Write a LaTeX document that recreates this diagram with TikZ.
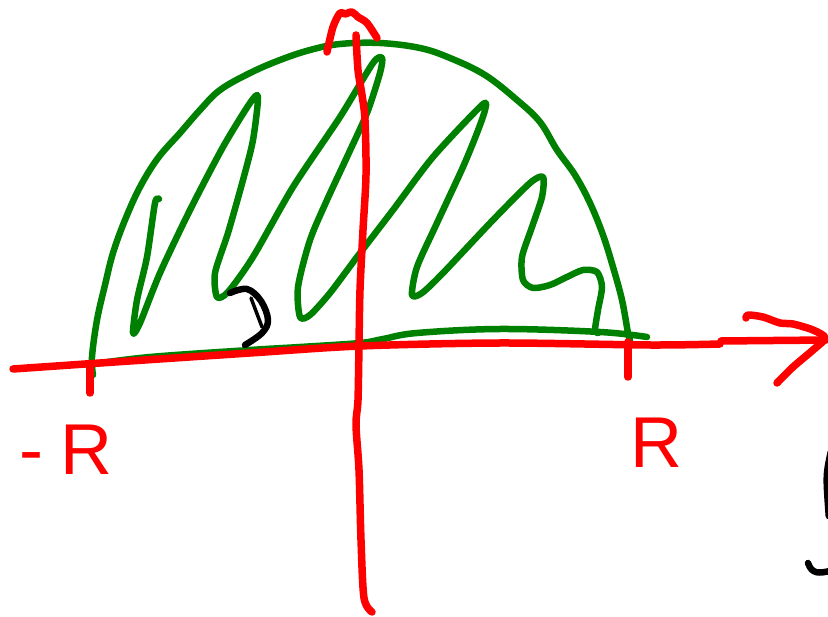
\documentclass[tikz,border=0pt]{standalone}
\usepackage{fontspec}
\setsansfont{Liberation Sans}
\definecolor{inkgreen}{RGB}{0,128,0}
\begin{document}
\begin{tikzpicture}[x=1pt,y=-1pt,line cap=round,line join=round,
  redink/.style={red,line width=7.5pt},
  greenink/.style={inkgreen,line width=6.5pt},
  blackink/.style={black,line width=6.5pt},
  rlabel/.style={red,inner sep=0pt,font=\sffamily\fontsize{72}{72}\selectfont}]
  \useasboundingbox (0,0) rectangle (828,617);
  \draw[greenink] plot[smooth,tension=0.6] coordinates {(93,375) (92,357) (97,320) (105,285) (113,253)
    (125,220) (140,187) (158,158) (180,133) (200,110) (220,90) (250,73) (280,60) (310,50) (340,44)
    (380,43) (420,48) (450,58) (485,75) (517,100) (540,122) (557,150) (575,175) (590,203) (603,235)
    (613,267) (622,300) (628,333) (630,340)};
  \draw[greenink] plot[smooth,tension=0.6] coordinates {(94,364) (150,357) (250,350) (300,347)
    (360,343) (383,339) (417,333) (500,329) (600,332) (647,337)};
  \draw[greenink] plot[smooth,tension=0.45] coordinates {(159,199) (155,203) (147,257) (137,300)
    (133,333) (140,323) (160,273) (190,210) (223,147) (250,103) (258,97) (253,140) (243,180)
    (228,233) (215,273) (217,297) (228,292) (253,257) (293,187) (340,117) (373,63) (382,58)
    (380,73) (367,113) (347,157) (327,200) (310,240) (298,287) (300,317) (310,315) (330,293)
    (357,257) (393,210) (433,157) (482,105) (485,110) (477,133) (463,167) (437,223) (417,267)
    (412,295) (422,293) (443,273) (493,220) (530,183) (543,177) (542,197) (532,227) (522,257)
    (523,280) (533,288) (550,285) (567,277) (583,270) (597,272) (602,287) (598,310) (595,330) (598,333)};
  \draw[redink] plot[smooth,tension=0.5] coordinates {(13,369) (100,363) (250,353) (360,346)
    (500,343) (650,345) (720,344)};
  \draw[redink] (721,341) -- (826,340);
  \draw[redink] plot[smooth,tension=0.5] coordinates {(746,318) (748,315) (763,317) (780,323)
    (793,324) (813,330) (825,338) (813,350) (793,367) (777,383)};
  \draw[redink] plot[smooth,tension=0.5] coordinates {(356,35) (358,70) (362,95) (365,120) (366,175)
    (363,230) (360,290) (359,345) (358,400) (356,425) (359,470) (361,540) (364,598) (372,612)};
  \draw[redink] plot[smooth,tension=0.5] coordinates {(327,52) (333,27) (340,13) (345,14) (352,12)
    (358,17) (367,23) (377,38)};
  \draw[redink] (90,366) -- (90,393);
  \draw[redink] (628,342) -- (628,377);
  \draw[blackink] plot[smooth,tension=0.6] coordinates {(230,293) (247,289) (261,301) (268,320)
    (262,333) (245,345)};
  \draw[blackink,line width=3.5pt] (251,298) -- (262,327);
  \draw[blackink,line width=7pt] (831,452) .. controls (826,475) .. (829,516);
  \draw[blackink] (808,563) .. controls (812,575) and (820,573) .. (830,571);
  \node[rlabel] (minusR) at (66,450) {-\kern18pt R};
  \node[rlabel] (plusR) at (656,443) {R};
\end{tikzpicture}
\end{document}
